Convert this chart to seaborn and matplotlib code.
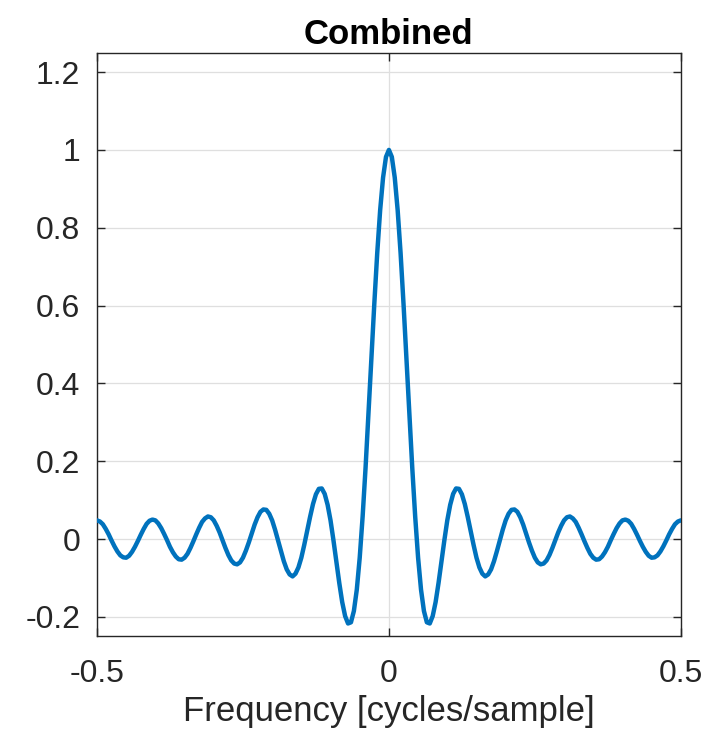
import numpy as np
import pandas as pd
import seaborn as sns
import matplotlib
matplotlib.use("Agg")
import matplotlib.pyplot as plt

# Combined response over normalized frequency, sampled every 0.005 cycles/sample
freq_lo, freq_hi, freq_step = -0.5, 0.5, 0.005
response_pos = [
    1.000, 0.982, 0.929, 0.845, 0.735, 0.605, 0.464, 0.321, 0.183, 0.058,
    -0.048, -0.130, -0.185, -0.214, -0.217, -0.198, -0.162, -0.113, -0.058, -0.003,
    0.048, 0.088, 0.116, 0.130, 0.129, 0.115, 0.090, 0.057, 0.021, -0.015,
    -0.048, -0.073, -0.089, -0.096, -0.091, -0.078, -0.057, -0.031, -0.003, 0.024,
    0.048, 0.065, 0.075, 0.076, 0.070, 0.056, 0.037, 0.014, -0.009, -0.030,
    -0.048, -0.060, -0.065, -0.063, -0.055, -0.041, -0.023, -0.003, 0.017, 0.034,
    0.048, 0.056, 0.058, 0.053, 0.044, 0.029, 0.012, -0.006, -0.023, -0.038,
    -0.048, -0.053, -0.052, -0.045, -0.034, -0.020, -0.003, 0.013, 0.028, 0.040,
    0.048, 0.050, 0.047, 0.039, 0.026, 0.011, -0.005, -0.020, -0.033, -0.043,
    -0.048, -0.047, -0.042, -0.032, -0.019, -0.004, 0.012, 0.026, 0.038, 0.045,
    0.048,
]
# the response is even in frequency: negative half mirrors the positive half
response = list(reversed(response_pos[1:])) + response_pos
freq = np.round(np.arange(len(response)) * freq_step + freq_lo, 4)

x_ticks = [-0.5, 0, 0.5]
x_tick_labels = ["-0.5", "0", "0.5"]
y_ticks = [-0.2, 0, 0.2, 0.4, 0.6, 0.8, 1.0, 1.2]
y_tick_labels = ["-0.2", "0", "0.2", "0.4", "0.6", "0.8", "1", "1.2"]

df = pd.DataFrame({"Frequency": freq, "Response": response})

sns.set_theme(style="white")
plt.rcParams["font.family"] = ["Liberation Sans", "DejaVu Sans"]

fig = plt.figure(figsize=(7.19, 7.33), dpi=100)
ax = fig.add_axes([0.1349, 0.1319, 0.812, 0.7963])

sns.lineplot(data=df, x="Frequency", y="Response", ax=ax,
             color="#0072BD", linewidth=3.2, zorder=3)

ax.set_xlim(freq_lo, freq_hi)
ax.set_ylim(-0.25, 1.25)
ax.set_xticks(x_ticks)
ax.set_xticklabels(x_tick_labels)
ax.set_yticks(y_ticks)
ax.set_yticklabels(y_tick_labels)

ax.grid(True, color="#dfdfdf", linewidth=0.9)
ax.set_axisbelow(True)
for side in ax.spines.values():
    side.set_color("#262626")
    side.set_linewidth(1.0)
    side.set_visible(True)

ax.tick_params(axis="both", which="major", direction="in", length=6, width=1.0,
               color="#262626", labelsize=23, labelcolor="#262626",
               top=True, right=True, left=True, bottom=True)
ax.tick_params(axis="x", pad=16)
ax.tick_params(axis="y", pad=12)

ax.set_xlabel("Frequency [cycles/sample]", fontsize=25, color="#262626", labelpad=5)
ax.set_ylabel("")
ax.set_title("Combined", fontsize=25, fontweight="bold", color="black", pad=6)

fig.savefig("out.png", dpi=100, facecolor="white")
